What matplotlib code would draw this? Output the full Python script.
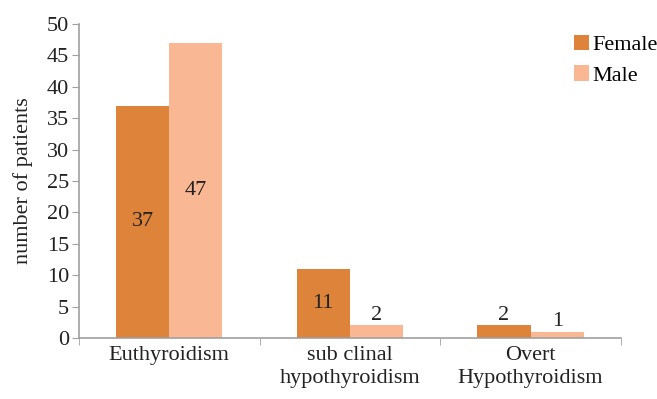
import numpy as np
from matplotlib import pyplot as plt

categories = ['Euthyroidism', 'sub clinal\nhypothyroidism', 'Overt\nHypothyroidism']
female = [37, 11, 2]
male = [47, 2, 1]

plt.rcParams['font.family'] = 'Liberation Serif'
plt.rcParams['font.size'] = 16

fig = plt.figure(figsize=(6.57, 3.99), dpi=100)
ax = fig.add_axes([0.120, 0.153, 0.825, 0.787])

x = np.arange(len(categories))
w = 0.295
b1 = ax.bar(x - w / 2, female, w, color='#DD843A', label='Female')
b2 = ax.bar(x + w / 2, male, w, color='#F9B793', label='Male')

# value labels: centred in tall bars, on top of short ones
for bars in (b1, b2):
    for r in bars:
        v = r.get_height()
        cx = r.get_x() + r.get_width() / 2
        if v >= 5:
            ax.text(cx, v / 2, str(int(v)), ha='center', va='center', color='#222222')
        else:
            ax.text(cx, v + 0.1, str(int(v)), ha='center', va='bottom', color='#222222')

ax.set_xlim(-0.5, 2.5)
ax.set_ylim(0, 50)
ax.set_yticks(range(0, 51, 5))
ax.set_xticks(x)
ax.set_xticklabels(categories, linespacing=1.25)
ax.set_xticks([-0.5, 0.5, 1.5, 2.5], minor=True)
ax.tick_params(axis='x', which='major', length=0, pad=6)
ax.tick_params(axis='x', which='minor', length=5)
ax.tick_params(axis='y', length=5, pad=2)
ax.tick_params(axis='both', which='both', color='#A0A0A0', labelcolor='#222222')

for s in ['top', 'right']:
    ax.spines[s].set_visible(False)
for s in ['left', 'bottom']:
    ax.spines[s].set_color('#A0A0A0')
    ax.spines[s].set_linewidth(1.2)

ax.set_ylabel('number of patients', color='#222222', labelpad=10)

ax.legend(loc='upper right', bbox_to_anchor=(1.105, 1.03), frameon=False,
          handlelength=0.7, handleheight=0.7, handletextpad=0.15, labelspacing=0.45)

fig.savefig('out.png', dpi=100)
